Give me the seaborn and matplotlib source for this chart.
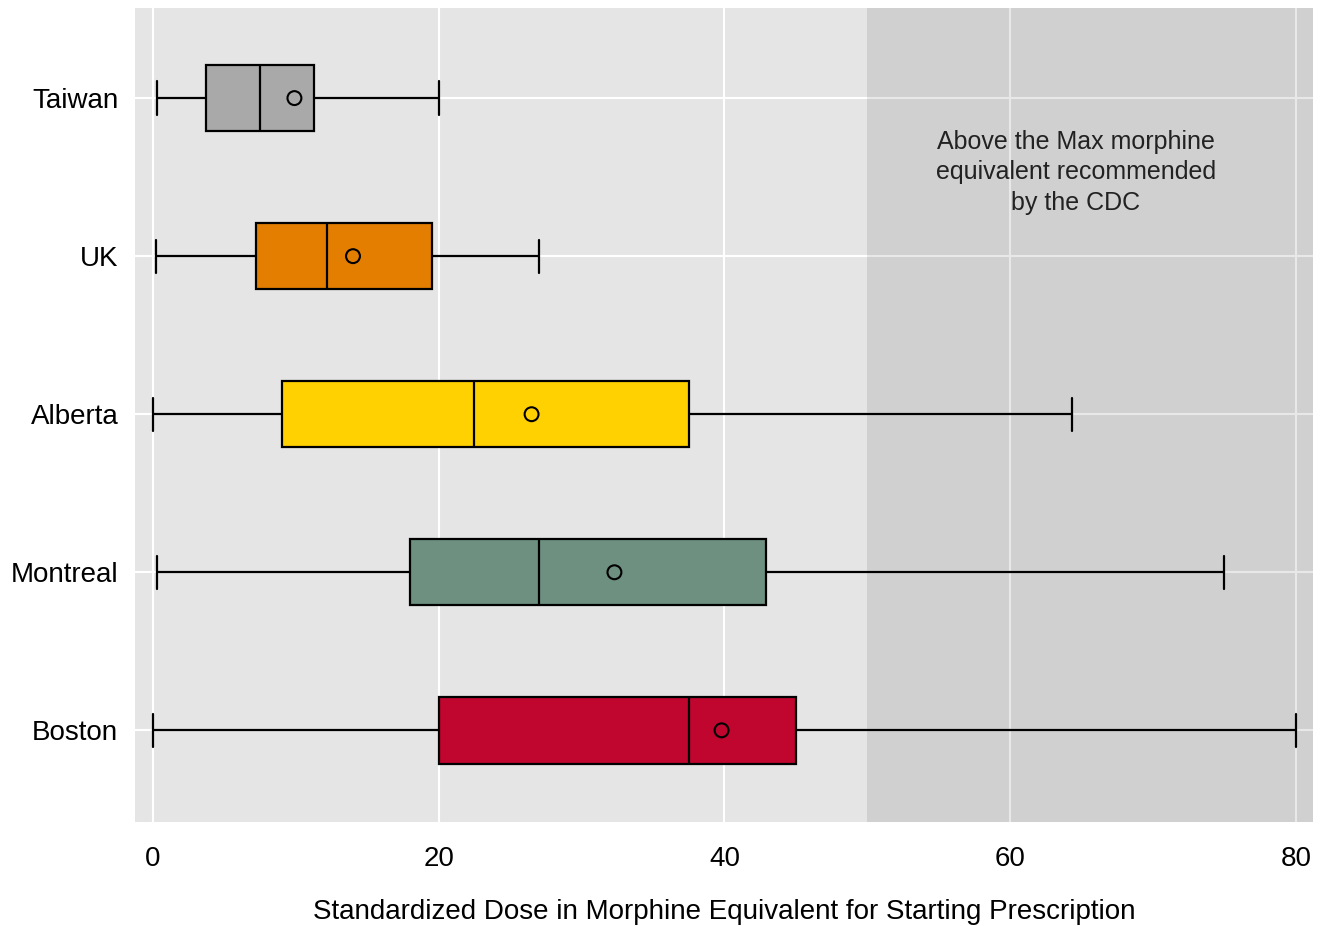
import numpy as np
import pandas as pd
import matplotlib
matplotlib.use("Agg")
import matplotlib.pyplot as plt
import seaborn as sns

regions = ["Taiwan", "UK", "Alberta", "Montreal", "Boston"]
whisker_low = [0.3, 0.2, 0.0, 0.3, 0.0]
q1 = [3.7, 7.2, 9.0, 18.0, 20.0]
median = [7.5, 12.2, 22.5, 27.0, 37.5]
q3 = [11.3, 19.5, 37.5, 42.9, 45.0]
whisker_high = [20.0, 27.0, 64.3, 75.0, 80.0]
means = [9.9, 14.0, 26.5, 32.3, 39.8]
colors = ["#A9A9A9", "#E37E00", "#FFD100", "#6E9080", "#C0062F"]
cdc_max = 50
xticks = [0, 20, 40, 60, 80]

rows = []
for r, lo, a, m, b, hi in zip(regions, whisker_low, q1, median, q3, whisker_high):
    for v in (lo, a, m, b, hi):
        rows.append({"region": r, "dose": v})
df = pd.DataFrame(rows)
mean_df = pd.DataFrame({"region": regions, "dose": means})

sns.set_theme(style="darkgrid")
plt.rcParams["font.family"] = ["Liberation Sans", "DejaVu Sans"]

fig = plt.figure(figsize=(13.28, 9.26), dpi=100)
ax = fig.add_axes([135 / 1328, 1 - 822 / 926, (1313 - 135) / 1328, (822 - 8) / 926])
ax.set_facecolor("#E5E5E5")

ax.axvspan(cdc_max, 90, color="black", alpha=0.092, zorder=2, lw=0)

sns.boxplot(data=df, x="dose", y="region", hue="region", order=regions,
            palette=colors, saturation=1, whis=np.inf, width=0.42, linewidth=1.6,
            linecolor="black", legend=False, ax=ax, zorder=3)
sns.scatterplot(data=mean_df, x="dose", y="region", marker="o", s=100,
                facecolor="none", edgecolor="black", linewidth=1.5,
                ax=ax, zorder=5)

ax.set_xlim(-1.26, 81.2)
ax.set_ylim(4.58, -0.57)
ax.set_xticks(xticks)
ax.grid(True, color="white", linewidth=1.5, zorder=1)
ax.set_axisbelow(True)
for s in ax.spines.values():
    s.set_visible(False)

ax.tick_params(axis="both", length=0, labelsize=20, colors="black")
ax.tick_params(axis="x", pad=17)
ax.tick_params(axis="y", pad=12)
ax.set_ylabel("")
ax.set_xlabel("Standardized Dose in Morphine Equivalent for Starting Prescription",
              fontsize=20, labelpad=20, color="black")

ax.text(64.6, 0.47, "Above the Max morphine\nequivalent recommended\nby the CDC",
        ha="center", va="center", fontsize=18, color="#222222", linespacing=1.34,
        zorder=6)

fig.savefig("out.png", dpi=100)
